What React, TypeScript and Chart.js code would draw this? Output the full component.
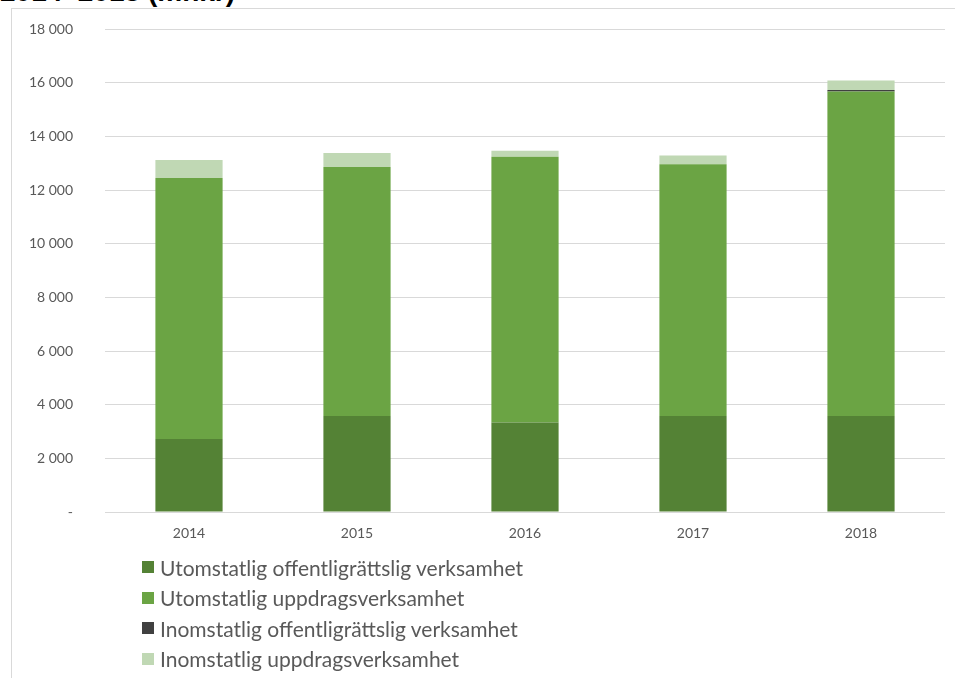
import React, { useEffect, useRef } from "react";
import { Chart, registerables } from "chart.js";

Chart.register(...registerables);

const years = ["2014", "2015", "2016", "2017", "2018"];
const utomOffentlig = [2720, 3580, 3340, 3580, 3580];
const utomUppdrag = [9730, 9280, 9900, 9380, 12090];
const inomOffentlig = [0, 0, 0, 0, 60];
const inomUppdrag = [670, 520, 220, 330, 350];

const seriesNames = [
  "Utomstatlig offentligrättslig verksamhet",
  "Utomstatlig uppdragsverksamhet",
  "Inomstatlig offentligrättslig verksamhet",
  "Inomstatlig uppdragsverksamhet",
];
const seriesColors = ["#548235", "#6ba444", "#404040", "#c0d8b4"];
const titleText = "2014–2018 (mnkr)";

const FONT = "Lato, 'Open Sans', 'DejaVu Sans', sans-serif";

function fmt(v: number): string {
  if (v === 0) return "-";
  const s = String(Math.round(v));
  return s.replace(/\B(?=(\d{3})+(?!\d))/g, "\u2005");
}

export default function App() {
  const ref = useRef<HTMLCanvasElement | null>(null);

  useEffect(() => {
    if (!ref.current) return;
    const values = [utomOffentlig, utomUppdrag, inomOffentlig, inomUppdrag];
    const chart = new Chart(ref.current, {
      type: "bar",
      data: {
        labels: years,
        datasets: values.map((d, i) => ({
          label: seriesNames[i],
          data: d,
          backgroundColor: seriesColors[i],
          borderWidth: 0,
          barPercentage: 0.4,
          categoryPercentage: 1,
          stack: "s",
        })),
      },
      options: {
        animation: false,
        responsive: false,
        maintainAspectRatio: false,
        layout: { padding: { left: 21, right: 10, top: 29, bottom: 0 } },
        plugins: {
          legend: { display: false },
          tooltip: { enabled: false },
          title: { display: false },
        },
        scales: {
          x: {
            stacked: true,
            grid: { display: false, drawTicks: false },
            border: { display: false },
            ticks: {
              color: "#595959",
              font: { family: FONT, size: 14 },
              padding: 13,
            },
            afterFit: (scale: any) => {
              scale.height = 166;
            },
          },
          y: {
            stacked: true,
            min: 0,
            max: 18000,
            grid: {
              color: "#d9d9d9",
              lineWidth: 1,
              drawTicks: true,
              tickLength: 30,
              tickColor: "rgba(0,0,0,0)",
            },
            border: { display: false },
            ticks: {
              stepSize: 2000,
              color: "#595959",
              font: { family: FONT, size: 14 },
              padding: 2,
              callback: (v: any) => fmt(Number(v)),
            },
            afterFit: (scale: any) => {
              scale.width = 84;
            },
          },
        },
      },
    });
    return () => chart.destroy();
  }, []);

  return (
    <div
      style={{
        position: "fixed",
        left: 0,
        top: 0,
        width: 955,
        height: 678,
        background: "#fff",
        overflow: "hidden",
      }}
    >
      <div
        style={{
          position: "absolute",
          left: 0,
          top: -24,
          fontFamily: "'Liberation Sans', Arial, sans-serif",
          fontWeight: "bold",
          fontSize: 28,
          color: "#000",
          whiteSpace: "nowrap",
        }}
      >
        {titleText}
      </div>
      <div
        style={{
          position: "absolute",
          left: 11,
          top: 8,
          width: 960,
          height: 700,
          borderLeft: "1.5px solid #d9d9d9",
          borderTop: "1.5px solid #d9d9d9",
        }}
      />
      <canvas
        ref={ref}
        width={955}
        height={678}
        style={{ position: "absolute", left: 0, top: 0, width: 955, height: 678 }}
      />
      <div style={{ position: "absolute", left: 142, top: 552 }}>
        {seriesNames.map((n, i) => (
          <div
            key={n}
            style={{
              display: "flex",
              alignItems: "center",
              height: 30.5,
              fontFamily: FONT,
              fontSize: 21,
              color: "#595959",
              whiteSpace: "nowrap",
            }}
          >
            <span
              style={{
                display: "inline-block",
                width: 12,
                height: 12,
                background: seriesColors[i],
                marginRight: 6,
              }}
            />
            {n}
          </div>
        ))}
      </div>
    </div>
  );
}
